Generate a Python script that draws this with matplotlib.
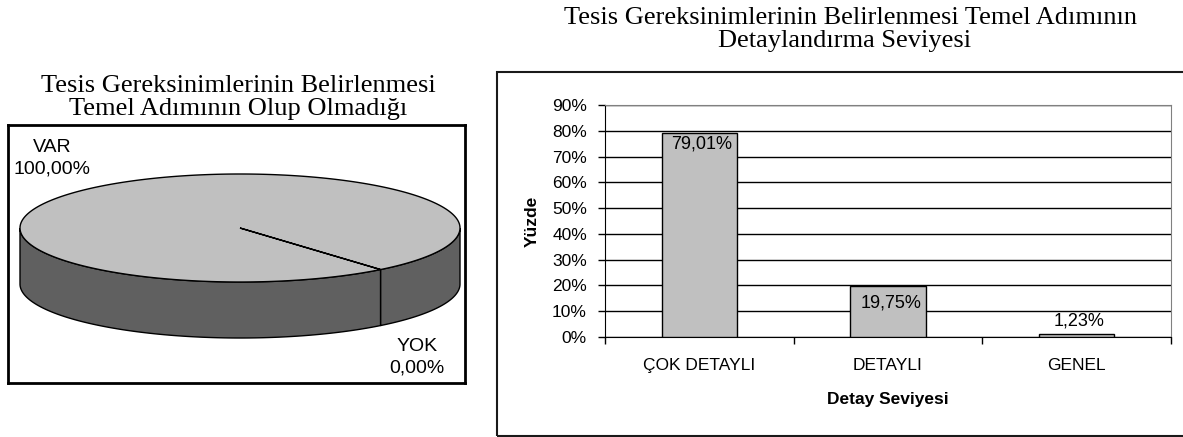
import numpy as np
import matplotlib
matplotlib.use("Agg")
import matplotlib.pyplot as plt
from matplotlib.patches import Polygon, Rectangle

plt.rcParams['font.family'] = ['Liberation Sans', 'DejaVu Sans']

# pie: is the step present?
pie_labels = ['VAR', 'YOK']
pie_values = [100.0, 0.0]

# bar: level of detail
categories = ['ÇOK DETAYLI', 'DETAYLI', 'GENEL']
percents = [79.01, 19.75, 1.23]

W, H = 1183, 437
fig = plt.figure(figsize=(W / 100, H / 100), dpi=100)


def box(x0, y0, x1, y1):
    # pixel box (top-left origin) -> figure fraction rect
    return [x0 / W, 1 - y1 / H, (x1 - x0) / W, (y1 - y0) / H]


def pct(v):
    return f"{v:.2f}".replace('.', ',') + '%'


serif = 'Liberation Serif'

# ---------------- left: 3D pie ----------------
fig.text(238 / W, 1 - 92 / H, 'Tesis Gereksinimlerinin Belirlenmesi',
         ha='center', va='baseline', family=serif, fontsize=19)
fig.text(238 / W, 1 - 115 / H, 'Temel Adımının Olup Olmadığı',
         ha='center', va='baseline', family=serif, fontsize=19)

ax1 = fig.add_axes(box(8, 125, 465, 383))
R = 220.0
ax1.set_xlim(-(240 - 8) / R, (465 - 240) / R)
ax1.set_ylim(-(383 - 228) / R, (228 - 125) / R)
ax1.set_xticks([])
ax1.set_yticks([])
for s in ax1.spines.values():
    s.set_linewidth(2)
    s.set_color('black')

ry = 54 / R
depth = 56 / R
top_colors = ['#C0C0C0', '#9A9A9A']
side_colors = ['#606060', '#4A4A4A']
start = -50.3
total = sum(pie_values)

spans = []
t0 = start
for v in pie_values:
    t1 = t0 - v / total * 360
    spans.append((t0, t1))
    t0 = t1

# side walls (front half only)
for (a0, a1), sc in zip(spans, side_colors):
    lo, hi = min(a0, a1), max(a0, a1)
    if hi - lo <= 0:
        continue
    for k in range(-3, 3):
        a = max(lo, 180 + 360 * k)
        b = min(hi, 360 + 360 * k)
        if b <= a:
            continue
        th = np.radians(np.linspace(a, b, 200))
        x = np.cos(th)
        y = ry * np.sin(th)
        pts = np.vstack([np.column_stack([x, y]),
                         np.column_stack([x, y - depth])[::-1]])
        ax1.add_patch(Polygon(pts, closed=True, facecolor=sc,
                              edgecolor='black', lw=1))

# top faces
for (a0, a1), tc in zip(spans, top_colors):
    if a0 == a1:
        continue
    th = np.radians(np.linspace(a0, a1, 400))
    arc = np.column_stack([np.cos(th), ry * np.sin(th)])
    pts = np.vstack([[0, 0], arc])
    ax1.add_patch(Polygon(pts, closed=True, facecolor=tc,
                          edgecolor='black', lw=1))

label_pos = [((52 - 240) / R, (228 - 158) / R), ((417 - 240) / R, (228 - 357) / R)]
for lab, v, (lx, ly) in zip(pie_labels, pie_values, label_pos):
    ax1.text(lx, ly, f"{lab}\n{pct(v)}", ha='center', va='center',
             fontsize=14, linespacing=1.35)

# ---------------- right: bar chart ----------------
fig.text(851 / W, 1 - 24 / H,
         'Tesis Gereksinimlerinin Belirlenmesi Temel Adımının',
         ha='center', va='baseline', family=serif, fontsize=19)
fig.text(845 / W, 1 - 47 / H, 'Detaylandırma Seviyesi',
         ha='center', va='baseline', family=serif, fontsize=19)

fig.add_artist(Rectangle((497 / W, 1 - 436 / H), (1200 - 497) / W, (436 - 72) / H,
                         transform=fig.transFigure, fill=False,
                         edgecolor='#1a1a1a', lw=1.5))

ax2 = fig.add_axes(box(605, 105, 1171, 337))
x = np.arange(len(categories))
bars = ax2.bar(x, percents, width=0.4, color='#C0C0C0', edgecolor='black',
               lw=1, zorder=3)
ax2.set_xlim(-0.5, len(categories) - 0.5)
ax2.set_ylim(0, 90)
ax2.set_yticks(np.arange(0, 91, 10))
ax2.set_yticklabels([f"{t}%" for t in range(0, 91, 10)], fontsize=12.5)
ax2.yaxis.grid(True, color='black', lw=1)
ax2.set_axisbelow(True)
ax2.tick_params(axis='y', direction='out', length=5, width=1, pad=8)

ax2.set_xticks(x)
ax2.set_xticklabels(categories, fontsize=12.5)
ax2.tick_params(axis='x', which='major', length=0, pad=15)
ax2.set_xticks(np.arange(len(categories) + 1) - 0.5, minor=True)
ax2.tick_params(axis='x', which='minor', direction='out', length=5, width=1)

ax2.spines['top'].set_color('#808080')
ax2.spines['right'].set_color('#808080')
ax2.spines['left'].set_color('black')
ax2.spines['bottom'].set_color('black')

label_offsets = [-11, -17, 13]
for b, v, off in zip(bars, percents, label_offsets):
    ax2.annotate(pct(v), (b.get_x() + b.get_width() / 2, v),
                 xytext=(2, off * 0.72), textcoords='offset points',
                 ha='center', va='center', fontsize=13, zorder=4)

ax2.set_ylabel('Yüzde', fontsize=12.5, fontweight='bold', labelpad=9)
ax2.set_xlabel('Detay Seviyesi', fontsize=12.5, fontweight='bold', labelpad=14)

fig.savefig('out.png', dpi=100)
